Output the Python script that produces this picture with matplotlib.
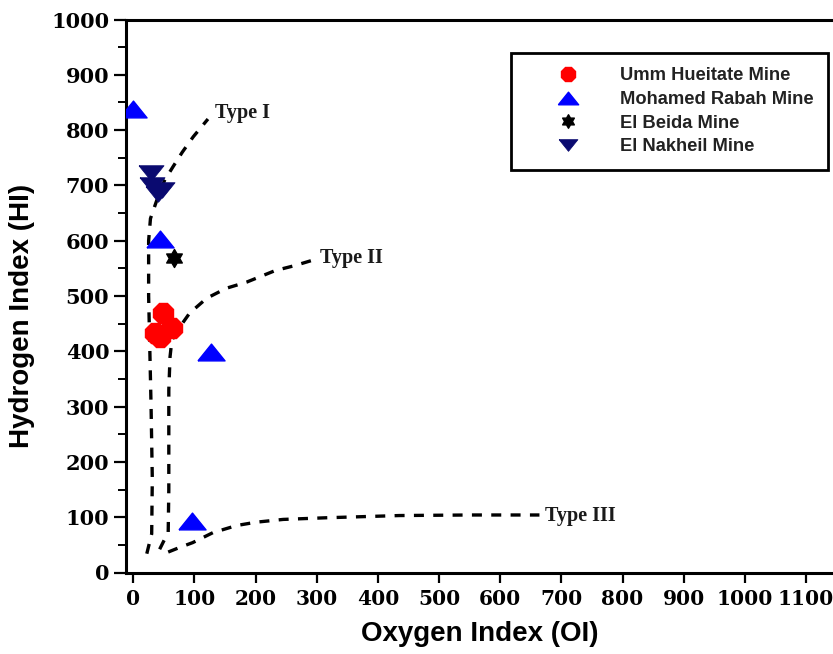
import matplotlib
matplotlib.use("Agg")
import matplotlib.pyplot as plt
from matplotlib.path import Path
from matplotlib.ticker import MultipleLocator

# ---- sample data: Oxygen Index (OI) vs Hydrogen Index (HI) ----
umm_oi = [48, 35, 44, 63]
umm_hi = [469, 433, 426, 442]

rabah_oi = [0, 43, 127, 96]
rabah_hi = [838, 603, 398, 94]

beida_oi = [66]
beida_hi = [568]

nakheil_oi = [29, 30, 47, 40]
nakheil_hi = [723, 700, 691, 684]

# kerogen evolution paths
type1_oi = [22, 30, 31, 29, 27, 25, 25, 28, 38, 51, 65, 80, 98, 122]
type1_hi = [34, 70, 170, 300, 400, 500, 600, 640, 672, 709, 734, 760, 788, 820]

type2_oi = [43, 57, 58, 58, 58, 60, 63, 76, 92, 120, 152, 185, 232, 264, 297]
type2_hi = [42, 73, 150, 250, 330, 390, 420, 444, 469, 496, 514, 525, 546, 555, 566]

type3_oi = [57, 75, 97, 130, 169, 201, 245, 316, 435, 550, 664]
type3_hi = [37, 45, 54, 72, 85, 91, 96, 99, 103, 104, 104]

path_labels = ["Type I", "Type II", "Type III"]
label_oi = [133, 305, 673]
label_hi = [831, 569, 103]

series_names = ["Umm Hueitate Mine", "Mohamed Rabah Mine", "El Beida Mine", "El Nakheil Mine"]

x_ticks = list(range(0, 1101, 100))
y_ticks = list(range(0, 1001, 100))

# ---- marker shapes (flattened triangles, hexagram) ----
tri_up = [(-1, -0.62), (1, -0.62), (0, 0.62), (-1, -0.62)]
tri_down = [(-1, 0.62), (1, 0.62), (0, -0.62), (-1, 0.62)]
hexagram = Path.unit_regular_star(6, 0.58)

fig = plt.figure(figsize=(8.33, 6.54), dpi=100)
ax = fig.add_axes([126 / 833, 1 - 572.5 / 654, 1 - 126 / 833, (572.5 - 19.5) / 654])

dash = (0, (3.0, 2.8))
for xs, ys in [(type1_oi, type1_hi), (type2_oi, type2_hi), (type3_oi, type3_hi)]:
    ax.plot(xs, ys, color="black", lw=2.4, linestyle=dash, zorder=2)

for txt, xo, yh in zip(path_labels, label_oi, label_hi):
    ax.text(xo, yh, txt, family="Liberation Serif", fontsize=14.5, fontweight="bold",
            ha="left", va="center", color="#1a1a1a", zorder=3)

ax.plot(umm_oi, umm_hi, linestyle="none", marker="8", markersize=15,
        color="#ff0000", mec="#ff0000", label=series_names[0], zorder=4)
ax.plot(rabah_oi, rabah_hi, linestyle="none", marker=tri_up, markersize=19.5,
        color="#0000ff", mec="#0000ff", label=series_names[1], zorder=4)
ax.plot(beida_oi, beida_hi, linestyle="none", marker=hexagram, markersize=13,
        color="black", mec="black", label=series_names[2], zorder=4)
ax.plot(nakheil_oi, nakheil_hi, linestyle="none", marker=tri_down, markersize=18,
        color="#0a0a70", mec="#0a0a70", mew=0.6, label=series_names[3], zorder=4)

ax.set_xlim(-12, 1144)
ax.set_ylim(0, 1000)
ax.set_xticks(x_ticks)
ax.set_yticks(y_ticks)
ax.yaxis.set_minor_locator(MultipleLocator(50))

for side in ["left", "bottom", "top"]:
    ax.spines[side].set_linewidth(2.2)
ax.spines["right"].set_visible(False)

ax.tick_params(axis="y", which="major", direction="out", length=9, width=1.6, pad=3)
ax.tick_params(axis="y", which="minor", direction="out", length=5.5, width=1.4)
ax.tick_params(axis="x", which="major", direction="out", length=7, width=1.6, pad=5)

for lab in ax.get_yticklabels():
    lab.set_family("DejaVu Serif")
    lab.set_fontweight("bold")
    lab.set_fontsize(15)
for lab in ax.get_xticklabels():
    lab.set_family("DejaVu Serif")
    lab.set_fontweight("bold")
    lab.set_fontsize(14.5)

fig.text(22 / 833, 1 - 316 / 654, "Hydrogen Index (HI)", rotation=90,
         family="Liberation Sans", fontweight="bold", fontsize=20,
         ha="center", va="center")
fig.text(480 / 833, 1 - 634 / 654, "Oxygen Index (OI)",
         family="Liberation Sans", fontweight="bold", fontsize=20,
         ha="center", va="center")

leg = ax.legend(loc="upper left", bbox_to_anchor=(511 / 833, 1 - 52.7 / 654),
                bbox_transform=fig.transFigure, borderaxespad=0,
                prop={"family": "Liberation Sans", "weight": "bold", "size": 13.2},
                markerscale=0.75, numpoints=1, handlelength=4.6,
                handletextpad=0.55, labelspacing=0.36, borderpad=0.8,
                fancybox=False, framealpha=1, edgecolor="black")
leg.get_frame().set_linewidth(2.0)
for t in leg.get_texts():
    t.set_color("#222222")

fig.savefig("out.png", dpi=100)
